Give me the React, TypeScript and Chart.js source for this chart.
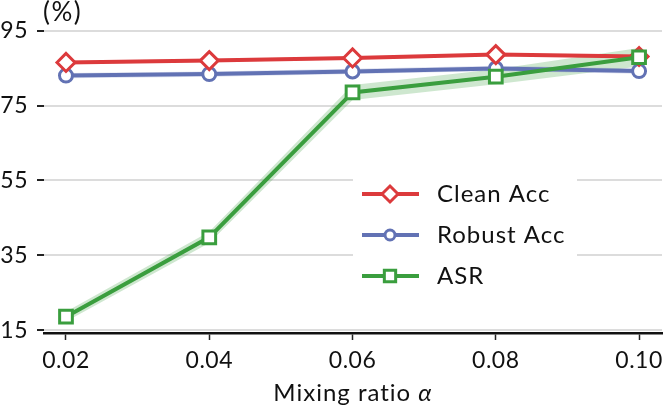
import { useEffect, useRef } from 'react';
import { Chart, registerables } from 'chart.js';
import { drawPoint } from 'chart.js/helpers';
Chart.register(...registerables);

const mixingRatios = [0.02, 0.04, 0.06, 0.08, 0.10];
const cleanAcc = [86.5, 87.0, 87.7, 88.6, 88.1];
const cleanStd = [0.4, 0.4, 0.4, 0.4, 0.4];
const robustAcc = [83.0, 83.4, 84.1, 84.9, 84.2];
const robustStd = [0.7, 0.7, 0.7, 0.7, 0.7];
const asrValues = [18.6, 39.8, 78.5, 82.7, 87.9];
const asrStd = [1.3, 1.5, 2.0, 2.0, 2.5];
const yTickValues = [15, 35, 55, 75, 95];
const seriesNames = ['Clean Acc', 'Robust Acc', 'ASR'];

const RED = '#dc3a3c';
const BLUE = '#6272b4';
const GREEN = '#3a9e3e';
const FONT = 'Lato';

const styles = [
  { color: RED, band: 'rgba(220,58,60,0.22)', pointStyle: 'rectRot', radius: 9, legendRadius: 8 },
  { color: BLUE, band: 'rgba(98,114,180,0.22)', pointStyle: 'circle', radius: 6.5, legendRadius: 5 },
  { color: GREEN, band: 'rgba(58,158,62,0.25)', pointStyle: 'rect', radius: 9, legendRadius: 8 },
];

const pts = (vals: number[]) => vals.map((v, i) => ({ x: mixingRatios[i], y: v }));
const shift = (vals: number[], sd: number[], k: number) => vals.map((v, i) => v + k * sd[i]);

const insetLegend = {
  id: 'insetLegend',
  beforeDraw(chart: any) {
    chart.ctx.letterSpacing = '0.5px';
  },
  afterDatasetsDraw(chart: any) {
    const { ctx } = chart;
    ctx.save();
    ctx.fillStyle = '#ffffff';
    ctx.fillRect(353, 172, 224, 122);
    ctx.letterSpacing = '1px';
    seriesNames.forEach((name, i) => {
      const s = styles[i];
      const y = 194 + i * 41;
      ctx.strokeStyle = s.color;
      ctx.lineWidth = 4;
      ctx.beginPath();
      ctx.moveTo(362, y);
      ctx.lineTo(419, y);
      ctx.stroke();
      ctx.fillStyle = '#ffffff';
      ctx.lineWidth = 3;
      drawPoint(ctx, { pointStyle: s.pointStyle, radius: s.legendRadius, borderWidth: 3, rotation: 0 }, 390, y);
      ctx.fillStyle = '#111';
      ctx.font = `24px ${FONT}`;
      ctx.textBaseline = 'middle';
      ctx.fillText(name, 437, y);
    });
    ctx.restore();
  },
  afterDraw(chart: any) {
    const { ctx, chartArea } = chart;
    ctx.save();
    ctx.fillStyle = '#111';
    ctx.textBaseline = 'middle';
    ctx.letterSpacing = '1.5px';
    ctx.font = `26px ${FONT}`;
    ctx.fillText('(%)', chartArea.left - 1, 13);
    ctx.letterSpacing = '1px';
    const a = 'Mixing ratio ';
    ctx.font = `24px ${FONT}`;
    const w1 = ctx.measureText(a).width;
    ctx.font = `italic 24px ${FONT}`;
    const w2 = ctx.measureText('α').width;
    const x0 = (chartArea.left + chartArea.right) / 2 - (w1 + w2) / 2;
    ctx.font = `24px ${FONT}`;
    ctx.fillText(a, x0, 393);
    ctx.font = `italic 24px ${FONT}`;
    ctx.fillText('α', x0 + w1, 393);
    ctx.restore();
  },
};

export default function App() {
  const canvasRef = useRef<HTMLCanvasElement>(null);
  const chartRef = useRef<Chart | null>(null);

  useEffect(() => {
    document.body.style.margin = '0';
    if (!canvasRef.current) return;
    if (chartRef.current) chartRef.current.destroy();

    const series = [cleanAcc, robustAcc, asrValues];
    const stds = [cleanStd, robustStd, asrStd];
    const datasets: any[] = [];
    series.forEach((vals, i) => {
      datasets.push({
        label: seriesNames[i] + ' upper',
        data: pts(shift(vals, stds[i], 1)),
        borderWidth: 0,
        pointRadius: 0,
        fill: false,
        order: 10,
      });
      datasets.push({
        label: seriesNames[i] + ' lower',
        data: pts(shift(vals, stds[i], -1)),
        borderWidth: 0,
        pointRadius: 0,
        backgroundColor: styles[i].band,
        fill: '-1',
        order: 10,
      });
    });
    const lineOrder = [1, 2, 0];
    series.forEach((vals, i) => {
      datasets.push({
        label: seriesNames[i],
        data: pts(vals),
        borderColor: styles[i].color,
        borderWidth: 4,
        pointStyle: styles[i].pointStyle,
        pointRadius: styles[i].radius,
        pointBorderWidth: 3,
        pointBackgroundColor: '#ffffff',
        pointBorderColor: styles[i].color,
        fill: false,
        tension: 0,
        order: lineOrder[i],
      });
    });

    const tickFont = { family: FONT, size: 23 };

    chartRef.current = new Chart(canvasRef.current, {
      type: 'line',
      data: { datasets },
      options: {
        animation: false,
        responsive: true,
        maintainAspectRatio: false,
        layout: { autoPadding: false, padding: { top: 22, right: 3, left: 0, bottom: 0 } },
        plugins: { legend: { display: false }, tooltip: { enabled: false } },
        scales: {
          x: {
            type: 'linear',
            min: 0.01693,
            max: 0.1032,
            afterBuildTicks: (scale: any) => { scale.ticks = mixingRatios.map(v => ({ value: v })); },
            afterFit: (scale: any) => {
              scale.height = 80;
              scale.paddingLeft = 0;
              scale.paddingRight = 0;
            },
            ticks: {
              color: '#111',
              font: tickFont,
              padding: 7,
              maxRotation: 0,
              callback: (v: any) => Number(v).toFixed(2),
            },
            grid: { drawOnChartArea: false, tickLength: 7, tickColor: '#222', tickWidth: 1.5 },
            border: { display: true, color: '#111', width: 2.5 },
          },
          y: {
            type: 'linear',
            min: 14.25,
            max: 97.1,
            afterBuildTicks: (scale: any) => { scale.ticks = yTickValues.map(v => ({ value: v })); },
            afterFit: (scale: any) => { scale.width = 44; },
            ticks: { color: '#111', font: tickFont, padding: 9 },
            grid: { color: '#dcdcdc', lineWidth: 2, tickLength: 7, tickColor: '#222', tickWidth: 2 },
            border: { display: false },
          },
        },
      },
      plugins: [insetLegend],
    });

    return () => { chartRef.current?.destroy(); };
  }, []);

  return (
    <div style={{ position: 'relative', width: 665, height: 413 }}>
      <canvas ref={canvasRef} role="img" aria-label="Mixing ratio chart" />
    </div>
  );
}
